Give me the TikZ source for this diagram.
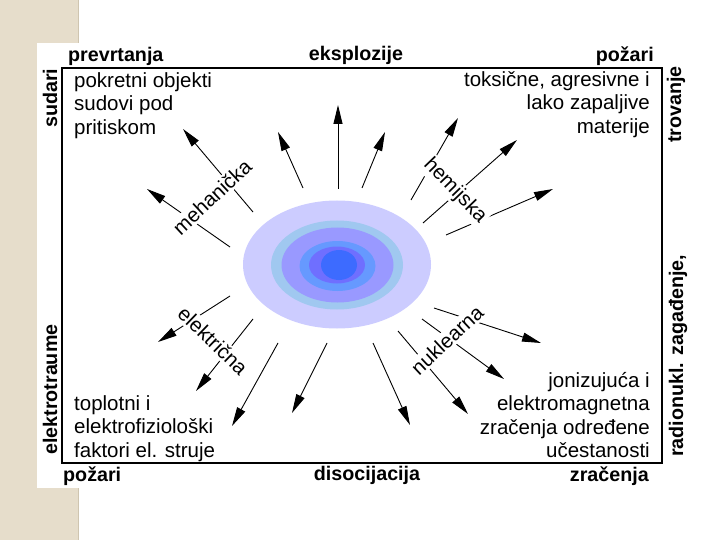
\documentclass[tikz,border=0pt]{standalone}
\usepackage{fontspec}
\setmainfont{Liberation Sans}
\usetikzlibrary{arrows.meta}
\definecolor{beige}{HTML}{E6DDCB}
\definecolor{beigeedge}{HTML}{CFC5B0}
\definecolor{ring1}{HTML}{CCCCFF}
\definecolor{ring2}{HTML}{A0C8F0}
\definecolor{ring3}{HTML}{9999FF}
\definecolor{ring4}{HTML}{6699FF}
\definecolor{ring5}{HTML}{6F6FFF}
\definecolor{ring6}{HTML}{3D6BFF}
\begin{document}
\begin{tikzpicture}[x=1pt,y=-1pt,
  arr/.style={line width=0.9pt,-{Triangle[length=19pt,width=9pt]}},
  txt/.style={font=\fontsize{20.5}{23.5}\selectfont,inner sep=0pt},
  boldlbl/.style={font=\fontsize{19.7}{23}\selectfont\bfseries,inner sep=0pt},
  tag/.style={font=\fontsize{20.5}{24}\selectfont,fill=white,inner sep=2pt}]
\useasboundingbox (0,0) rectangle (720,540);
\fill[white] (0,0) rectangle (720,540);
% left strip
\fill[beige] (0,0) rectangle (78,540);
\fill[white] (37,43) rectangle (78,488);
\draw[beigeedge,line width=1pt] (78,0) -- (78,43) (78,488) -- (78,540);
% frame
\draw[line width=2pt] (62,68) rectangle (662,463);
% centre
\fill[ring1] (337,264.5) ellipse [x radius=94,y radius=64];
\fill[ring2] (337,265) ellipse [x radius=66,y radius=44.5];
\fill[ring3] (337.5,265) ellipse [x radius=56,y radius=37.5];
\fill[ring4] (337.5,266) ellipse [x radius=38,y radius=25];
\fill[ring5] (337,265) ellipse [x radius=28,y radius=18.5];
\fill[ring6] (339,265) ellipse [x radius=18,y radius=15];
% arrow end points
\coordinate (As) at (253,212); \coordinate (Ae) at (183,129);
\coordinate (Bs) at (230,247); \coordinate (Be) at (147,189);
\coordinate (Cs) at (303,188); \coordinate (Ce) at (278,132);
\coordinate (Ds) at (338,189); \coordinate (De) at (338,105);
\coordinate (Es) at (362,188); \coordinate (Ee) at (385,132);
\coordinate (Fs) at (411,200); \coordinate (Fe) at (458,118);
\coordinate (Gs) at (423,223); \coordinate (Ge) at (517,140);
\coordinate (Hs) at (446,235); \coordinate (He) at (553,189);
\coordinate (Is) at (230,296); \coordinate (Ie) at (158,342);
\coordinate (Js) at (253,319); \coordinate (Je) at (196,391);
\coordinate (Ks) at (278,343); \coordinate (Ke) at (232,426);
\coordinate (Ls) at (327,343); \coordinate (Le) at (292,413);
\coordinate (Ms) at (373,343); \coordinate (Me) at (410,425);
\coordinate (Ns) at (398,331); \coordinate (Ne) at (468,414);
\coordinate (Os) at (422,319); \coordinate (Oe) at (504,379);
\coordinate (Ps) at (434,308); \coordinate (Pe) at (541,343);
\foreach \a in {A,B,C,D,E,F,G,H,I,J,K,L,M,N,O,P}
  \draw[arr] (\a s) -- (\a e);
% labels across the arrows
\node[tag,rotate=43] (meh) at (212,197) {mehanička};
\node[tag,rotate=-46] (hem) at (455,191) {hemijska};
\node[tag,rotate=-44] (ele) at (213,341) {električna};
\node[tag,rotate=43] (nuk) at (447,340) {nuklearna};
% corner texts
\node[txt,anchor=north west,align=left] (tl) at (74,71)
  {\rule{0pt}{16pt}pokretni objekti\\sudovi pod\\pritiskom};
\node[txt,anchor=north east,align=right] (tr) at (650,70)
  {\rule{0pt}{16pt}toksične, agresivne i\\lako zapaljive\\materije};
\node[txt,anchor=north west,align=left] (bl) at (74,394)
  {\rule{0pt}{16pt}toplotni i\\elektrofiziološki\\faktori el. struje};
\node[txt,anchor=north east,align=right] (br) at (650,371)
  {\rule{0pt}{16pt}jonizujuća i\\elektromagnetna\\zračenja određene\\učestanosti};
% bold labels around the frame
\node[boldlbl,anchor=base west] (prev) at (68,62) {prevrtanja};
\node[boldlbl,anchor=base] (eksp) at (356,61) {eksplozije};
\node[boldlbl,anchor=base east] (poz1) at (654,62) {požari};
\node[boldlbl,anchor=base west] (poz2) at (63,481) {požari};
\node[boldlbl,anchor=base] (diso) at (367,480) {disocijacija};
\node[boldlbl,anchor=base east] (zrac) at (649,481) {zračenja};
\node[boldlbl,rotate=90,anchor=base west] (sud) at (57,128) {sudari};
\node[boldlbl,rotate=90,anchor=base west] (elt) at (57,455) {elektrotraume};
\node[boldlbl,rotate=90,anchor=base west] (tro) at (681,143) {trovanje};
\node[boldlbl,rotate=90,anchor=base west] (rad) at (683,457) {radionukl. zagađenje,};
\end{tikzpicture}
\end{document}
